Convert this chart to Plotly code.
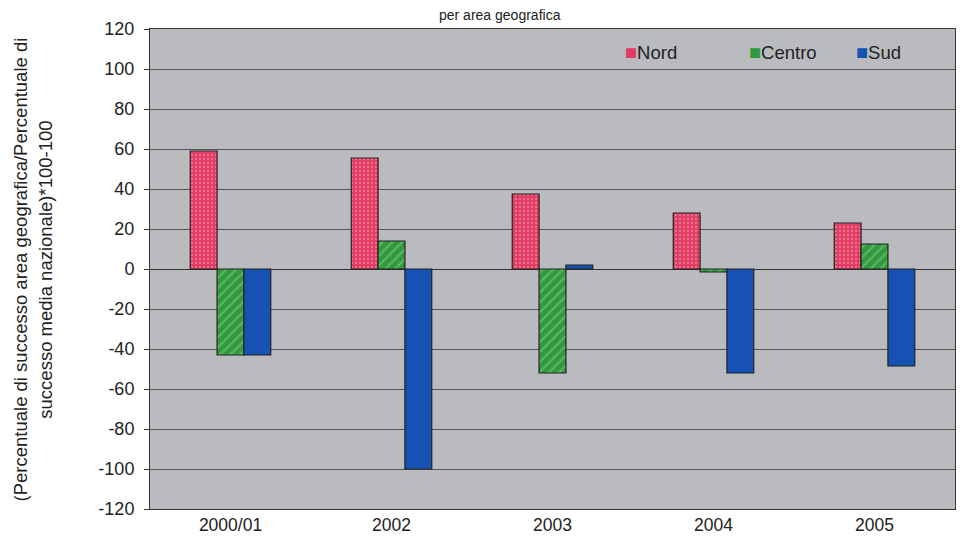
import plotly.graph_objects as go

anni = ["2000/01", "2002", "2003", "2004", "2005"]
nord = [59, 55.5, 37.5, 28, 23]
centro = [-43, 14, -52, -1.5, 12.5]
sud = [-43, -100, 2, -52, -48.5]
tick_y = [120, 100, 80, 60, 40, 20, 0, -20, -40, -60, -80, -100, -120]
tick_txt = [str(v) for v in tick_y]  # trattino normale come nell'originale

colori = {"Nord": "#e23a62", "Centro": "#2f9a3e", "Sud": "#1552b4"}

fig = go.Figure()
fig.add_trace(go.Bar(x=anni, y=nord, name="Nord",
                     marker=dict(color=colori["Nord"], line=dict(color="#222", width=1.2),
                                 pattern=dict(shape=".", fgcolor="#f7a0b4", size=4, solidity=0.3))))
fig.add_trace(go.Bar(x=anni, y=centro, name="Centro",
                     marker=dict(color=colori["Centro"], line=dict(color="#222", width=1.2),
                                 pattern=dict(shape="/", fgcolor="#8fd08a", size=7, solidity=0.3))))
fig.add_trace(go.Bar(x=anni, y=sud, name="Sud",
                     marker=dict(color=colori["Sud"], line=dict(color="#222", width=1.2))))

# la pagina ha 8px di margine nel body
fig.update_layout(
    width=956, height=537,
    margin=dict(l=142, r=9, t=21, b=36, autoexpand=False),
    paper_bgcolor="white", plot_bgcolor="#b9bbbe",
    font=dict(family="Liberation Sans, Arial", size=16, color="#222"),
    barmode="group", bargap=0.5, bargroupgap=0,
    showlegend=False,
)
fig.update_xaxes(showline=True, linecolor="#333", linewidth=1, mirror=True,
                 ticks="", tickfont=dict(size=17.5), automargin=False)
fig.update_yaxes(range=[-120, 120], tickvals=tick_y, ticktext=tick_txt, showgrid=True,
                 gridcolor="#555", gridwidth=0.8, zeroline=True, zerolinecolor="#333",
                 zerolinewidth=1, showline=True, linecolor="#333", linewidth=1, mirror=True,
                 ticks="outside", ticklen=5, tickcolor="#333", tickfont=dict(size=18),
                 ticklabelstandoff=6, automargin=False)

# titolo asse y
fig.add_annotation(text="(Percentuale di successo area geografica/Percentuale di<br>successo media nazionale)*100-100",
                   xref="paper", yref="paper", x=-0.146, y=0.5, textangle=-90,
                   xanchor="center", yanchor="middle", showarrow=False,
                   font=dict(size=18.5, color="#222"))

# titolo (tagliato nella scansione)
fig.add_annotation(text="per area geografica", xref="paper", yref="paper",
                   x=0.435, y=1.0, yanchor="bottom", yshift=4, showarrow=False,
                   font=dict(size=14, color="#222"))

# legenda
leg_x = [0.588, 0.741, 0.875]
for nome, lx in zip(["Nord", "Centro", "Sud"], leg_x):
    fig.add_annotation(text="<span style='color:%s;font-size:20px'>■</span>%s" % (colori[nome], nome),
                       xref="paper", yref="paper", x=lx, y=0.952, xanchor="left",
                       yanchor="middle", showarrow=False, font=dict(size=18.5, color="#222"))

fig.write_html("out.html")
